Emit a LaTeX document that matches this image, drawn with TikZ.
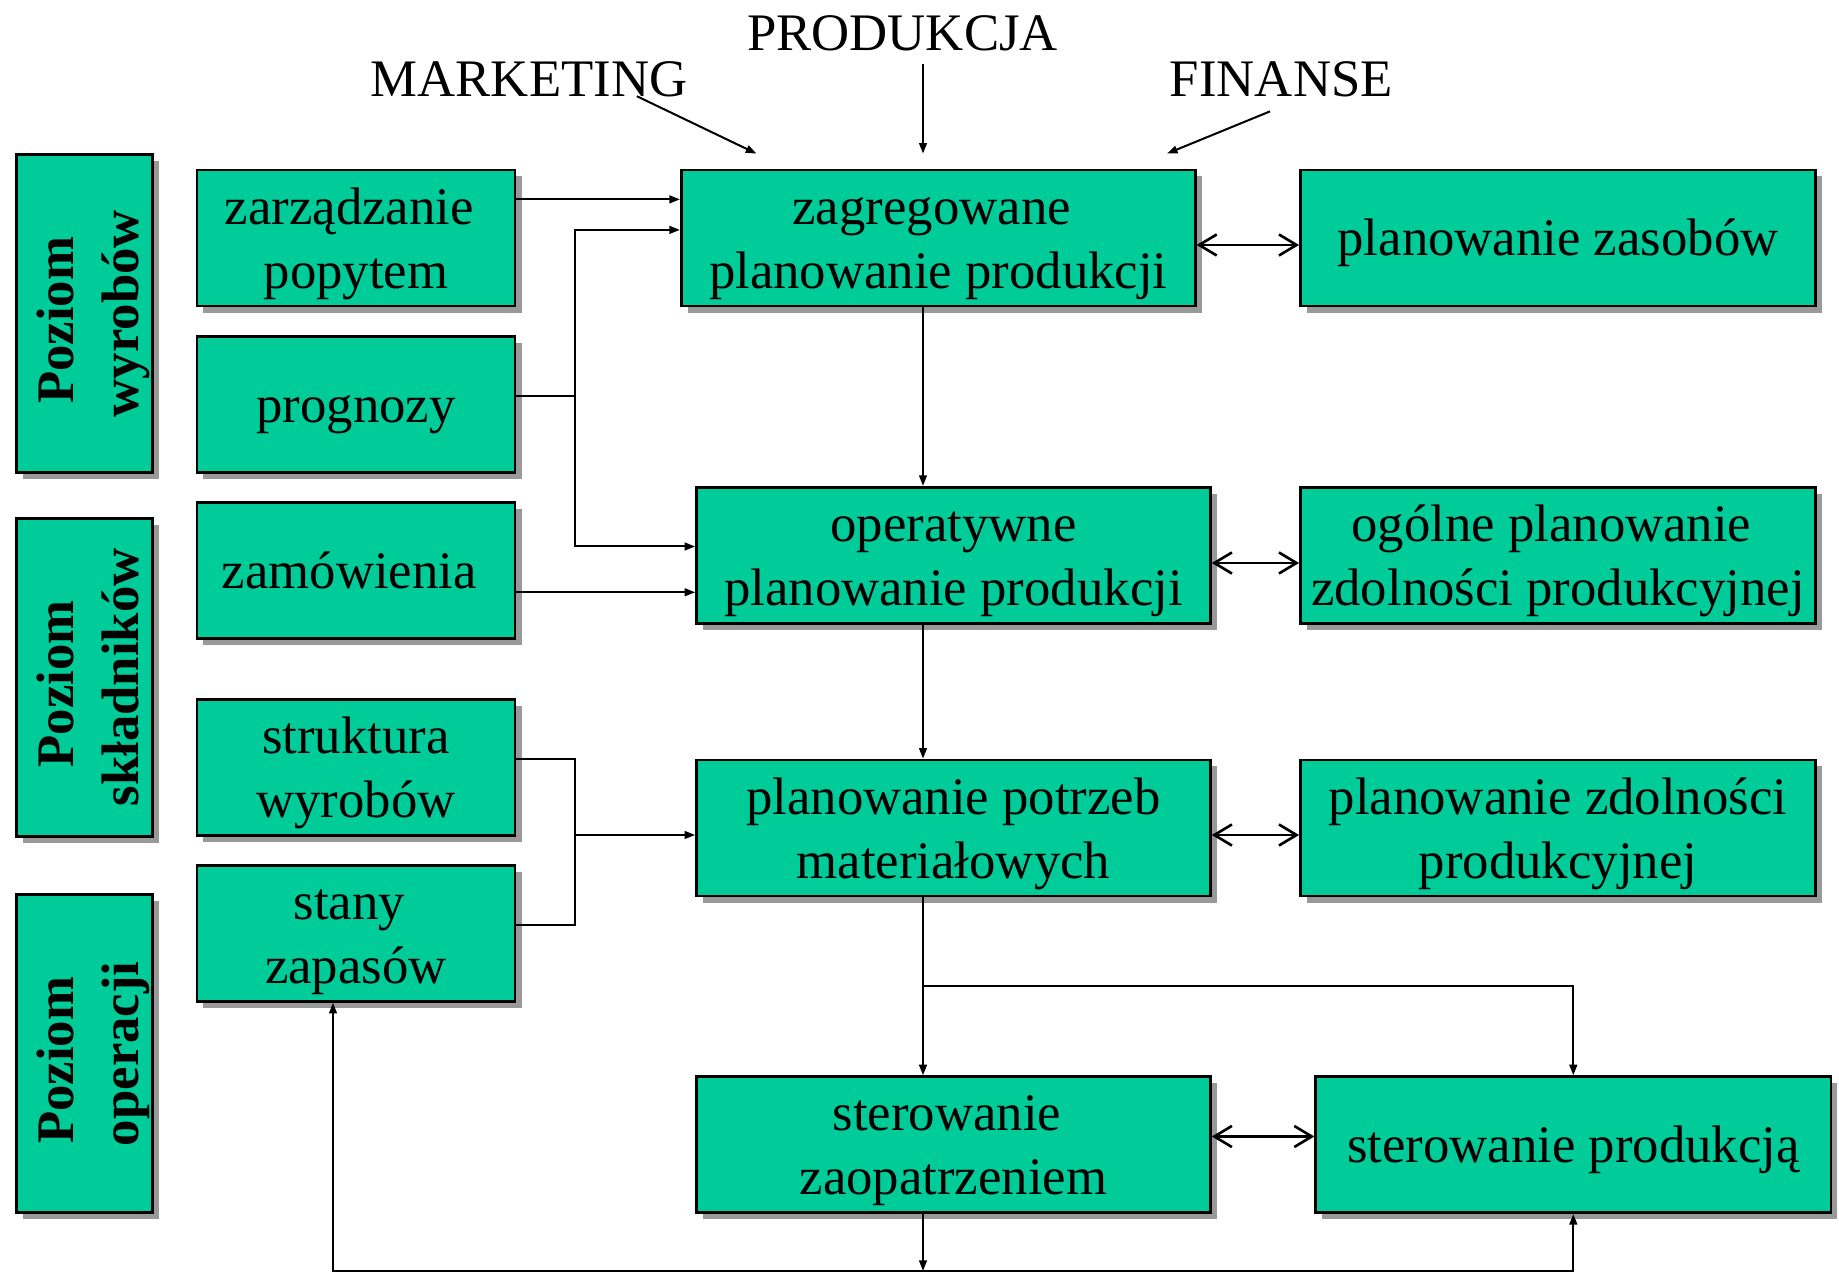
\documentclass[tikz,border=0pt]{standalone}
\usepackage{fontspec}
\setmainfont{Liberation Serif}
\usetikzlibrary{arrows.meta,shadows}
\definecolor{boxgreen}{HTML}{00CC99}
% trailing word space kept at a line end
\newcommand{\trail}{\kern0.25em}
\begin{document}
\begin{tikzpicture}[x=0.01cm,y=-0.01cm,
  box/.style={draw, fill=boxgreen, line width=0.75pt, inner sep=0pt, align=center,
    font=\fontsize{15}{18.2}\selectfont,
    drop shadow={shadow xshift=0.065cm, shadow yshift=-0.065cm, fill=black!40, opacity=1}},
  oneline/.style={text height=10pt, text depth=0pt},
  twoline/.style={text height=28.6pt, text depth=0pt},
  inbox/.style={box, minimum width=3.18cm, minimum height=1.36cm},
  midbox/.style={box, minimum width=5.137cm, minimum height=1.36cm},
  sidebox/.style={box, minimum width=5.149cm, minimum height=1.36cm},
  levelbox/.style={box, minimum width=1.361cm, minimum height=3.178cm},
  leveltext/.style={rotate=90, align=center, inner sep=0pt,
    text height=31pt, text depth=0pt,
    font=\fontsize{15}{18.6}\selectfont\bfseries},
  toplabel/.style={font=\fontsize{15}{18}\selectfont, inner sep=0pt, anchor=base},
  arr/.style={line width=0.57pt, -{Triangle[length=3pt,width=2.2pt]}},
  link/.style={line width=0.57pt},
  dbl/.style={line width=0.75pt,
    {Straight Barb[length=5pt,width=6pt]}-{Straight Barb[length=5pt,width=6pt]}}
]
\useasboundingbox (0,0) rectangle (1839,1274);

% level boxes on the left
\node[levelbox] (lvA) at (84.45,313.7) {};
\node[leveltext] (lvAt) at (lvA) {Poziom\trail\\wyrobów};
\node[levelbox] (lvB) at (84.45,677.3) {};
\node[leveltext] (lvBt) at (lvB) {Poziom\trail\\składników};
\node[levelbox] (lvC) at (84.45,1053.75) {};
\node[leveltext] (lvCt) at (lvC) {Poziom\trail\\operacji};

% input boxes
\node[inbox,twoline] (zarz)   at (355.95,238)   {zarządzanie\trail\\popytem};
\node[inbox,oneline] (prog)   at (355.95,404.6) {prognozy};
\node[inbox,oneline] (zam)    at (355.95,570.6) {zamówienia\trail};
\node[inbox,twoline] (strukt) at (355.95,767.6) {struktura\\wyrobów};
\node[inbox,twoline] (stany)  at (355.95,933.5) {stany\trail\\zapasów};

% planning chain
\node[midbox,twoline] (zag)   at (938.25,238)    {zagregowane\trail\\planowanie produkcji};
\node[midbox,twoline] (oper)  at (953.45,555.3)  {operatywne\\planowanie produkcji};
\node[midbox,twoline] (potrz) at (953.45,828)    {planowanie potrzeb\\materiałowych};
\node[midbox,twoline] (sterz) at (953.45,1144.65){sterowanie\trail\\zaopatrzeniem};

% capacity / resources column
\node[sidebox,oneline] (zas)   at (1558,238)     {planowanie zasobów};
\node[sidebox,twoline] (ogol)  at (1558,555.3)   {ogólne planowanie\trail\\zdolności produkcyjnej};
\node[sidebox,twoline] (zdol)  at (1558,828)     {planowanie zdolności\\produkcyjnej};
\node[sidebox,oneline] (sterp) at (1573.3,1144.65){sterowanie produkcją};

% top labels
\node[toplabel] (mkt)  at (529,96.2)   {MARKETING};
\node[toplabel] (prod) at (902.5,50.4) {PRODUKCJA};
\node[toplabel] (fin)  at (1281.3,96.2){FINANSE};

% helper coordinates
\coordinate (trunk) at (923,0);
\coordinate (busA) at (574.7,0);
\coordinate (stx) at (333,0);
\coordinate (yZarz) at (0,199.4);
\coordinate (yProgA) at (0,229.9);
\coordinate (yProg) at (0,396.4);
\coordinate (yProgB) at (0,546.5);
\coordinate (yZam) at (0,592.3);
\coordinate (yStr) at (0,758.8);
\coordinate (yStan) at (0,925.3);
\coordinate (yMrp) at (0,835);
\coordinate (yD1) at (0,245);
\coordinate (yD2) at (0,563);
\coordinate (yD3) at (0,835);
\coordinate (yD4) at (0,1136.5);
\coordinate (ySplit) at (0,986);
\coordinate (yBot) at (0,1271);
\coordinate (mktA) at (636.8,96.2);
\coordinate (mktB) at (756.4,153.6);
\coordinate (prodA) at (923,64.5);
\coordinate (prodB) at (923,153.6);
\coordinate (finA) at (1270,111.4);
\coordinate (finB) at (1167,153.6);

% influences from the functional areas
\draw[arr] (mktA) -- (mktB);
\draw[arr] (prodA) -- (prodB);
\draw[arr] (finA) -- (finB);

% inputs
\draw[arr] (zarz.east |- yZarz) -- (zag.west |- yZarz);
\draw[link] (prog.east |- yProg) -- (busA |- yProg);
\draw[arr] (busA |- yProg) |- (zag.west |- yProgA);
\draw[arr] (busA |- yProg) |- (oper.west |- yProgB);
\draw[arr] (zam.east |- yZam) -- (oper.west |- yZam);
\draw[link] (strukt.east |- yStr) -| (busA |- yMrp);
\draw[link] (stany.east |- yStan) -| (busA |- yMrp);
\draw[arr] (busA |- yMrp) -- (potrz.west |- yMrp);

% two-way links
\draw[dbl] (zag.east |- yD1) -- (zas.west |- yD1);
\draw[dbl] (oper.east |- yD2) -- (ogol.west |- yD2);
\draw[dbl] (potrz.east |- yD3) -- (zdol.west |- yD3);
\draw[dbl] (sterz.east |- yD4) -- (sterp.west |- yD4);

% main trunk
\draw[arr] (zag.south -| trunk) -- (oper.north -| trunk);
\draw[arr] (oper.south -| trunk) -- (potrz.north -| trunk);
\draw[arr] (potrz.south -| trunk) -- (sterz.north -| trunk);
\draw[arr] (trunk |- ySplit) -| (sterp.north);
\draw[arr] (sterz.south -| trunk) -- (trunk |- yBot);
\draw[arr] (trunk |- yBot) -| (stany.south -| stx);
\draw[arr] (trunk |- yBot) -| (sterp.south);
\end{tikzpicture}
\end{document}
